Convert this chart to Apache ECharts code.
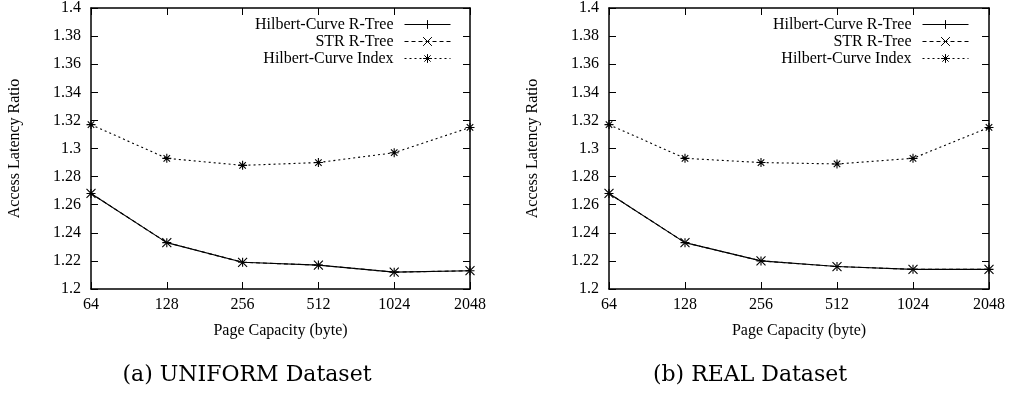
<!DOCTYPE html>
<html>
<head>
<meta charset="utf-8">
<script src="https://cdn.jsdelivr.net/npm/echarts@6/dist/echarts.min.js"></script>
<style>
  html, body { margin: 0; padding: 0; background: #fff; }
  #chart { width: 1012px; height: 396px; }
</style>
</head>
<body>
<div id="chart"></div>
<script>
// Page capacities on the x axis
const capacities = ['64', '128', '256', '512', '1024', '2048'];
const yTicks = { min: 1.2, max: 1.4, step: 0.02 };

// (a) UNIFORM dataset
const uniformHilbertRTree = [1.268, 1.233, 1.219, 1.217, 1.212, 1.213];
const uniformSTRRTree     = [1.268, 1.233, 1.219, 1.217, 1.212, 1.213];
const uniformHilbertIndex = [1.317, 1.293, 1.288, 1.290, 1.297, 1.315];

// (b) REAL dataset
const realHilbertRTree = [1.268, 1.233, 1.220, 1.216, 1.214, 1.214];
const realSTRRTree     = [1.268, 1.233, 1.220, 1.216, 1.214, 1.214];
const realHilbertIndex = [1.317, 1.293, 1.290, 1.289, 1.293, 1.315];

const seriesNames = ['Hilbert-Curve R-Tree', 'STR R-Tree', 'Hilbert-Curve Index'];
const captions = ['(a) UNIFORM Dataset', '(b) REAL Dataset'];

const FONT = '"Liberation Serif", "Times New Roman", serif';
const PLUS = 'path://M0,-1 L0,1 M-1,0 L1,0';
const CROSS = 'path://M-1,-1 L1,1 M-1,1 L1,-1';
const STAR = 'path://M0,-1 L0,1 M-1,0 L1,0 M-0.72,-0.72 L0.72,0.72 M-0.72,0.72 L0.72,-0.72';

const grids = [
  { left: 91, right: 542, top: 7, height: 282 },
  { left: 609, right: 23, top: 7, height: 282 }
];

const xAxes = [], yAxes = [], series = [];
grids.forEach((g, i) => {
  const tickInside = { show: true, inside: true, length: 7, lineStyle: { color: '#000', width: 1 } };
  const line = { show: true, lineStyle: { color: '#000', width: 1.5 } };
  xAxes.push({
    type: 'category', gridIndex: i, data: capacities, boundaryGap: false,
    position: 'bottom', axisLine: line, axisTick: Object.assign({ alignWithLabel: true }, tickInside),
    axisLabel: { color: '#000', fontFamily: FONT, fontSize: 16, margin: 8 },
    name: 'Page Capacity (byte)', nameLocation: 'middle', nameGap: 34,
    nameTextStyle: { color: '#000', fontFamily: FONT, fontSize: 16 }
  });
  xAxes.push({
    type: 'category', gridIndex: i, data: capacities, boundaryGap: false,
    position: 'top', axisLine: line, axisTick: tickInside, axisLabel: { show: false }
  });
  yAxes.push({
    type: 'value', gridIndex: i, min: yTicks.min, max: yTicks.max, interval: yTicks.step,
    position: 'left', axisLine: line, axisTick: tickInside, splitLine: { show: false },
    axisLabel: { color: '#000', fontFamily: FONT, fontSize: 16, margin: 10 },
    name: 'Access Latency Ratio', nameLocation: 'middle', nameGap: 68,
    nameTextStyle: { color: '#000', fontFamily: FONT, fontSize: 16 }
  });
  yAxes.push({
    type: 'value', gridIndex: i, min: yTicks.min, max: yTicks.max, interval: yTicks.step,
    position: 'right', axisLine: line, axisTick: tickInside, splitLine: { show: false },
    axisLabel: { show: false }
  });
});

function lineSeries(name, data, grid, symbol, dash, z) {
  return {
    name, type: 'line', data,
    xAxisIndex: grid * 2, yAxisIndex: grid * 2,
    symbol, symbolSize: 9, symbolKeepAspect: true, z,
    lineStyle: { color: '#000', width: 1.1, type: dash },
    itemStyle: { color: '#000', borderColor: '#000', borderWidth: 1.1 },
    emphasis: { disabled: true },
    animation: false
  };
}

[
  [uniformHilbertRTree, uniformSTRRTree, uniformHilbertIndex],
  [realHilbertRTree, realSTRRTree, realHilbertIndex]
].forEach((sets, g) => {
  series.push(lineSeries(seriesNames[1], sets[1], g, CROSS, [4, 3], 2));
  series.push(lineSeries(seriesNames[0], sets[0], g, PLUS, 'solid', 3));
  series.push(lineSeries(seriesNames[2], sets[2], g, STAR, [2, 3], 2));
});

const legendBase = {
  orient: 'vertical', align: 'right', top: 16, padding: 0,
  itemWidth: 46, itemHeight: 11, itemGap: 0,
  data: seriesNames,
  lineStyle: { width: 1 },
  itemStyle: { borderWidth: 1, color: '#000', borderColor: '#000' },
  textStyle: { color: '#000', fontFamily: FONT, fontSize: 16, lineHeight: 17, padding: [0, 6, 0, 0] },
  selectedMode: false
};

const chart = echarts.init(document.getElementById('chart'), null, { renderer: 'canvas' });
chart.setOption({
  backgroundColor: '#fff',
  animation: false,
  grid: grids,
  xAxis: xAxes,
  yAxis: yAxes,
  legend: [
    Object.assign({}, legendBase, { right: 561 }),
    Object.assign({}, legendBase, { right: 43 })
  ],
  graphic: [
    { type: 'text', x: 247, y: 375, style: { text: captions[0], fontFamily: '"DejaVu Serif", serif', fontSize: 22, fill: '#000', textAlign: 'center', textVerticalAlign: 'middle' } },
    { type: 'text', x: 750, y: 375, style: { text: captions[1], fontFamily: '"DejaVu Serif", serif', fontSize: 22, fill: '#000', textAlign: 'center', textVerticalAlign: 'middle' } }
  ],
  series
});
</script>
</body>
</html>
